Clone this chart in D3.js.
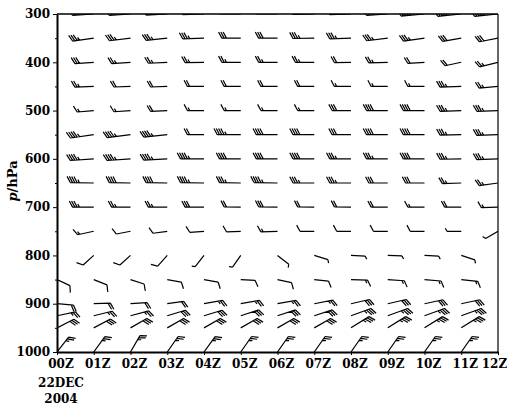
<!DOCTYPE html>
<html>
<head>
<meta charset="utf-8">
<script src="https://cdn.jsdelivr.net/npm/d3@7"></script>
<style>
  body { margin: 0; background: #fff; }
  svg { display: block; }
  .axis text, .lbl { font-family: "DejaVu Serif", serif; font-weight: bold; font-size: 12px; fill: #000; }
</style>
</head>
<body>
<svg id="chart" width="507" height="406"></svg>
<script>
// pressure levels (hPa) and hours (Z)
const levels = [300, 350, 400, 450, 500, 550, 600, 650, 700, 750, 800, 850, 900, 925, 950, 1000];
const hours = [0, 1, 2, 3, 4, 5, 6, 7, 8, 9, 10, 11, 12];
const hourLabels = ["00Z", "01Z", "02Z", "03Z", "04Z", "05Z", "06Z", "07Z", "08Z", "09Z", "10Z", "11Z", "12Z"];
const pTicks = [300, 400, 500, 600, 700, 800, 900, 1000];
const pMinor = [350, 450, 550, 650, 750, 850, 950];

// wind direction (deg, from) one row per level, one column per hour
const windDir = [
  [266, 266, 266, 267, 268, 270, 270, 269, 268, 266, 265, 264, 264], // 300
  [262, 262, 263, 264, 268, 270, 270, 269, 268, 263, 262, 260, 259], // 350
  [266, 266, 266, 267, 269, 270, 270, 270, 269, 268, 266, 258, 256], // 400
  [268, 268, 268, 268, 270, 270, 270, 270, 270, 270, 270, 268, 265], // 450
  [265, 265, 266, 267, 270, 270, 270, 270, 270, 270, 270, 268, 268], // 500
  [262, 262, 263, 264, 270, 270, 270, 270, 270, 270, 270, 269, 268], // 550
  [266, 266, 266, 267, 270, 270, 270, 270, 270, 270, 270, 269, 268], // 600
  [271, 271, 271, 271, 271, 271, 271, 270, 270, 270, 270, 268, 262], // 650
  [270, 270, 270, 270, 270, 271, 271, 271, 271, 270, 270, 270, 268], // 700
  [258, 258, 259, 262, 266, 268, 268, 270, 270, 270, 270, 270, 240], // 750
  [225, 228, 228, 222, 218, 215, 128, 107, 93, 92, 93, 108, 100],    // 800
  [115, 112, 108, 100, 100, 93, 102, 96, 92, 94, 95, 96, 95],        // 850
  [95, 88, 86, 82, 80, 80, 80, 79, 77, 77, 78, 78, 78],              // 900
  [78, 76, 75, 73, 73, 72, 72, 72, 70, 70, 70, 70, 70],              // 925
  [63, 62, 60, 60, 60, 60, 60, 60, 58, 58, 58, 58, 58],              // 950
  [38, 36, 30, 35, 36, 35, 35, 35, 35, 35, 35, 35, 35]               // 1000
];
// wind speed (kt)
const windSpd = [
  [40, 40, 40, 40, 40, 35, 35, 40, 40, 40, 45, 45, 45],
  [35, 35, 35, 35, 35, 30, 30, 35, 35, 35, 35, 30, 30],
  [30, 30, 25, 25, 25, 25, 25, 25, 20, 25, 20, 20, 25],
  [25, 25, 20, 20, 20, 20, 20, 20, 15, 15, 15, 35, 25],
  [15, 15, 15, 20, 15, 15, 15, 15, 30, 40, 40, 35, 35],
  [45, 45, 45, 45, 20, 45, 40, 40, 30, 40, 40, 35, 35],
  [45, 45, 45, 45, 45, 40, 40, 40, 35, 35, 40, 35, 35],
  [45, 45, 40, 40, 45, 35, 45, 35, 35, 30, 30, 25, 25],
  [35, 35, 25, 25, 30, 20, 30, 20, 20, 20, 15, 20, 15],
  [15, 15, 10, 10, 10, 10, 15, 10, 10, 10, 10, 5, 5],
  [10, 10, 10, 10, 5, 5, 5, 5, 5, 5, 5, 5, 5],
  [10, 10, 10, 10, 10, 10, 10, 10, 15, 15, 15, 15, 15],
  [20, 20, 20, 20, 25, 25, 25, 25, 30, 30, 30, 30, 30],
  [25, 25, 25, 30, 30, 30, 30, 30, 35, 35, 35, 35, 35],
  [30, 30, 30, 30, 30, 30, 30, 30, 35, 35, 35, 35, 35],
  [25, 25, 25, 25, 25, 25, 25, 25, 25, 25, 25, 25, 25]
];

const svg = d3.select("#chart");
const margin = {top: 14, right: 9, bottom: 54, left: 57};
const width = 507 - margin.left - margin.right;
const height = 406 - margin.top - margin.bottom;

const x = d3.scaleLinear().domain([0, 12]).range([0, width]);
const y = d3.scaleLinear().domain([300, 1000]).range([0, height]);

const g = svg.append("g").attr("transform", `translate(${margin.left},${margin.top})`);

g.append("clipPath").attr("id", "plot")
  .append("rect").attr("width", width).attr("height", height);

// barb geometry: shaft grows with the number of barbs on it
const baseLen = 12, barbLen = 7, gap = 2.3, flagW = 3, lean = 28 * Math.PI / 180;

function barbPath(x0, y0, dir, spd) {
  const r = dir * Math.PI / 180;
  const ux = Math.sin(r), uy = -Math.cos(r);
  const px = -uy, py = ux;
  const bx = px * Math.cos(lean) + ux * Math.sin(lean);
  const by = py * Math.cos(lean) + uy * Math.sin(lean);
  const pt = t => [x0 + ux * t, y0 + uy * t];
  let s = Math.round(spd / 5) * 5;
  const n50 = Math.floor(s / 50); s -= n50 * 50;
  const n10 = Math.floor(s / 10); s -= n10 * 10;
  const n5 = s >= 5 ? 1 : 0;
  const shaftLen = baseLen + (n10 + n5) * gap + n50 * (flagW + 1);
  const p = d3.path();
  const flags = [];
  p.moveTo(x0, y0);
  p.lineTo(...pt(shaftLen));
  let t = shaftLen;
  for (let i = 0; i < n50; i++) {
    const a = pt(t), b = pt(t - flagW);
    flags.push([a, [a[0] + bx * barbLen, a[1] + by * barbLen], b]);
    t -= flagW + 1;
  }
  for (let i = 0; i < n10; i++) {
    const a = pt(t);
    p.moveTo(...a);
    p.lineTo(a[0] + bx * barbLen, a[1] + by * barbLen);
    t -= gap;
  }
  if (n5) {
    const a = pt(t);
    p.moveTo(...a);
    p.lineTo(a[0] + bx * barbLen / 2, a[1] + by * barbLen / 2);
  }
  return {line: p.toString(), flags};
}

const cells = [];
levels.forEach((lev, i) => hours.forEach((h, j) => {
  cells.push({lev, h, dir: windDir[i][j], spd: windSpd[i][j]});
}));

const barbs = g.append("g").attr("clip-path", "url(#plot)");
cells.forEach(c => {
  const b = barbPath(x(c.h), y(c.lev), c.dir, c.spd);
  barbs.append("path").attr("d", b.line)
    .attr("fill", "none").attr("stroke", "#000").attr("stroke-width", 1.2);
  b.flags.forEach(f => barbs.append("path")
    .attr("d", d3.line()(f) + "Z").attr("fill", "#000"));
});

// frame
g.append("line").attr("x1", 0).attr("x2", width).attr("y1", 0).attr("y2", 0)
  .attr("stroke", "#000").attr("stroke-width", 1.4);
g.append("line").attr("x1", width).attr("x2", width).attr("y1", 0).attr("y2", height)
  .attr("stroke", "#000").attr("stroke-width", 1.2);

// y axis
const yAxis = g.append("g").attr("class", "axis")
  .call(d3.axisLeft(y).tickValues(pTicks).tickSize(4).tickSizeOuter(0).tickPadding(3)
    .tickFormat(d3.format("d")));
g.append("g").attr("class", "axis")
  .call(d3.axisLeft(y).tickValues(pMinor).tickSize(2).tickFormat(""))
  .select(".domain").remove();
yAxis.select(".domain").attr("stroke-width", 2);

// x axis
const xAxis = g.append("g").attr("class", "axis")
  .attr("transform", `translate(0,${height})`)
  .call(d3.axisBottom(x).tickValues(hours).tickSize(3).tickSizeOuter(0).tickPadding(4)
    .tickFormat((d, i) => hourLabels[i]));
xAxis.select(".domain").attr("stroke-width", 2);
xAxis.selectAll(".tick text")
  .attr("dx", d => d === 12 ? -4 : 3.5);

g.append("text").attr("class", "lbl")
  .attr("x", 4).attr("y", height + 35)
  .attr("text-anchor", "middle")
  .text("22DEC");
g.append("text").attr("class", "lbl")
  .attr("x", 4).attr("y", height + 51)
  .attr("text-anchor", "middle")
  .text("2004");

// y title
const yt = svg.append("text").attr("class", "lbl")
  .attr("transform", "translate(17,181) rotate(-90)")
  .attr("text-anchor", "middle")
  .style("font-size", "13px");
yt.append("tspan").style("font-style", "italic").text("p");
yt.append("tspan").text("/hPa");
</script>
</body>
</html>
